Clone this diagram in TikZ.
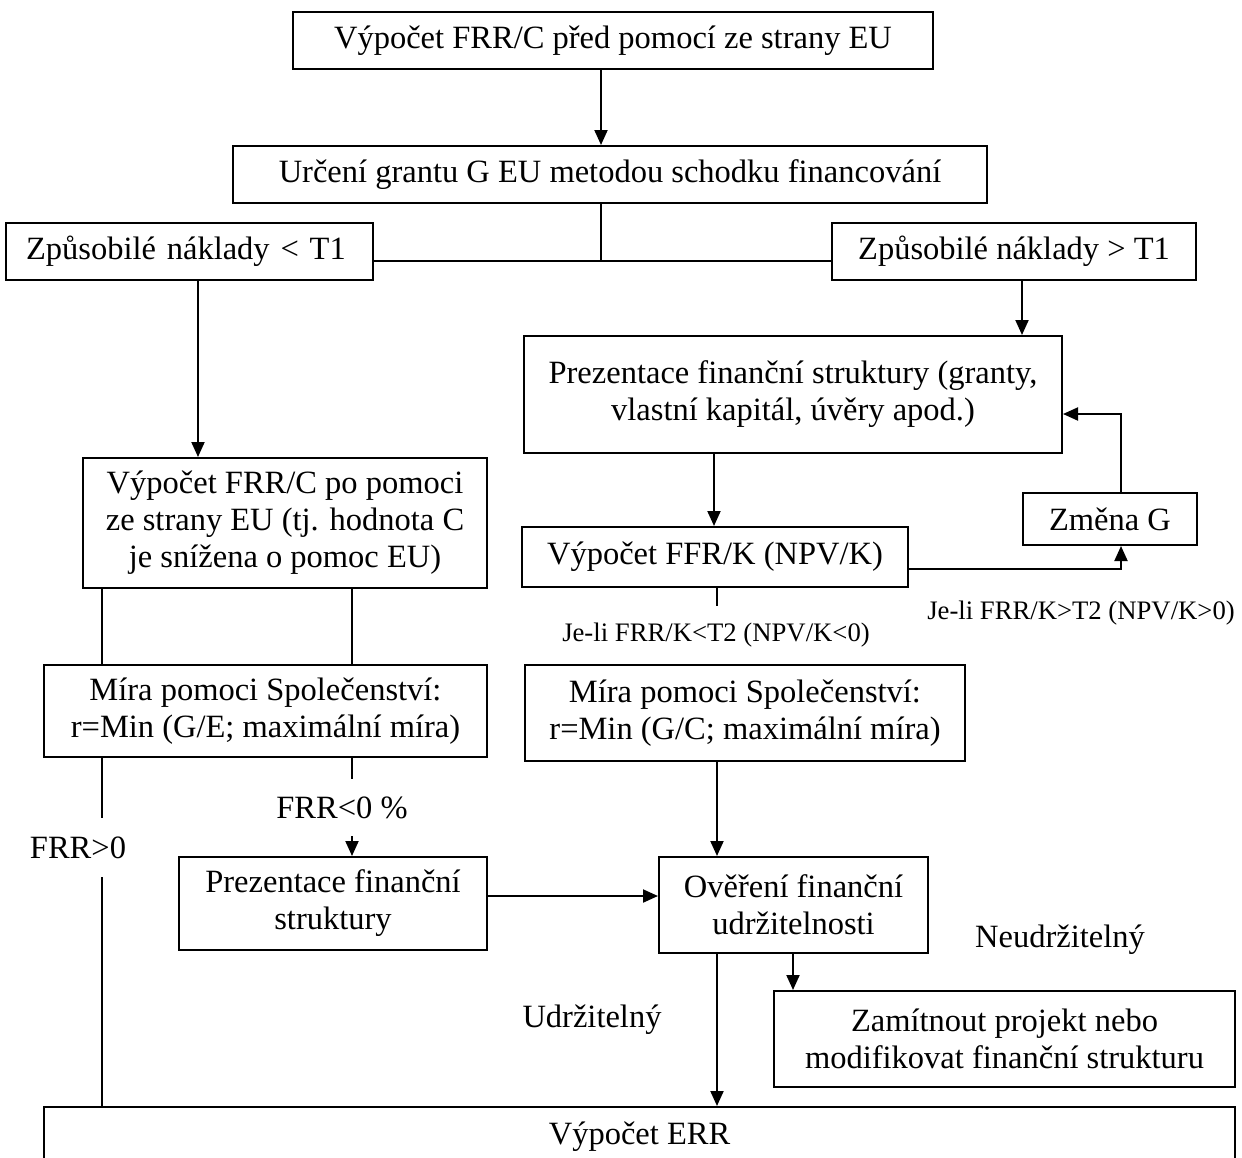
\documentclass[tikz,border=0pt]{standalone}
\usepackage{fontspec}
\setmainfont{Liberation Serif}
\usetikzlibrary{arrows.meta}
\begin{document}
\begin{tikzpicture}[x=1pt,y=-1pt,
  box/.style={draw=black,line width=2pt,inner sep=0pt,align=center,
    font=\fontsize{32.5}{37}\selectfont},
  lab/.style={inner sep=0pt,align=center,font=\fontsize{32.5}{37}\selectfont},
  slab/.style={inner sep=0pt,align=center,font=\fontsize{26.7}{30}\selectfont},
  ln/.style={line width=2pt,black},
  arr/.style={line width=2pt,black,-{Triangle[length=15pt,width=13pt]}}]
\useasboundingbox (0,0) rectangle (1242,1157);
\clip (0,0) rectangle (1242,1157);
% boxes
\node[box,minimum width=640pt,minimum height=57pt] (top) at (613,40.5) {Výpočet FRR/C před pomocí ze strany EU};
\node[box,minimum width=754pt,minimum height=57pt] (b2) at (610,174.5) {Určení grantu G EU metodou schodku financování};
\node[box,minimum height=57pt,text width=327pt,align=left,inner xsep=20pt] (b3) at (189.5,251.5) {Způsobilé náklady < T1};
\node[box,minimum width=364pt,minimum height=57pt] (b4) at (1014,251.5) {Způsobilé náklady > T1};
\node[box,minimum width=404pt,minimum height=130pt] (b5) at (285,523) {Výpočet FRR/C po pomoci\\ze strany EU (tj. hodnota C\\je snížena o pomoc EU)};
\node[box,minimum width=538pt,minimum height=117pt] (b6) at (793,394.5) {Prezentace finanční struktury (granty,\\vlastní kapitál, úvěry apod.)};
\node[box,minimum width=386pt,minimum height=60pt] (b7) at (715,557) {Výpočet FFR/K (NPV/K)};
\node[box,minimum width=174pt,minimum height=52pt] (zg) at (1110,519) {Změna G};
\node[box,minimum width=443pt,minimum height=92pt] (b8) at (265.5,711) {Míra pomoci Společenství:\\r=Min (G/E; maximální míra)};
\node[box,minimum width=440pt,minimum height=96pt] (b11) at (745,713) {Míra pomoci Společenství:\\r=Min (G/C; maximální míra)};
\node[box,minimum width=308pt,minimum height=93pt] (b9) at (333,903.5) {Prezentace finanční\\struktury};
\node[box,minimum width=269pt,minimum height=96pt] (b10) at (793.5,905) {Ověření finanční\\udržitelnosti};
\node[box,minimum width=461pt,minimum height=96pt] (b12) at (1004.5,1039) {Zamítnout projekt nebo\\modifikovat finanční strukturu};
\node[box,minimum width=1191pt,minimum height=60pt] (err) at (639.5,1137) {Výpočet ERR};
% labels
\node[slab] (l1) at (716,635) {Je-li FRR/K<T2 (NPV/K<0)};
\node[slab] (l2) at (1081,613) {Je-li FRR/K>T2 (NPV/K>0)};
\node[lab] (l3) at (78,848) {FRR>0};
\node[lab] (l4) at (342,808) {FRR<0 \%};
\node[lab] (l5) at (1060,940) {Neudržitelný};
\node[lab] (l6) at (592,1020) {Udržitelný};
% column coordinates
\coordinate (xA) at (601,0);
\coordinate (xB) at (198,0);
\coordinate (xC) at (1022,0);
\coordinate (xD) at (714,0);
\coordinate (xE) at (717,0);
\coordinate (xG) at (102,0);
\coordinate (xH) at (352,0);
\coordinate (xI) at (793,0);
\coordinate (j1) at (601,261);
\coordinate (j2) at (1121,569);
\coordinate (j3) at (1121,414);
\coordinate (t1) at (717,606);
\coordinate (g1) at (102,818);
\coordinate (g2) at (102,877);
\coordinate (h1) at (352,779);
\coordinate (h2) at (352,836);
\coordinate (k) at (0,896);
% connectors
\draw[arr] (top.south -| xA) -- (b2.north -| xA);
\draw[ln] (b2.south -| xA) -- (j1);
\draw[ln] (b3.east |- j1) -- (b4.west |- j1);
\draw[arr] (b3.south -| xB) -- (b5.north -| xB);
\draw[arr] (b4.south -| xC) -- (b6.north -| xC);
\draw[arr] (b6.south -| xD) -- (b7.north -| xD);
\draw[arr] (b7.east |- j2) -- (j2) -- (zg.south -| j2);
\draw[arr] (zg.north -| j3) -- (j3) -- (b6.east |- j3);
\draw[ln] (b7.south -| t1) -- (t1);
\draw[ln] (b5.south -| xG) -- (b8.north -| xG);
\draw[ln] (b5.south -| xH) -- (b8.north -| xH);
\draw[ln] (b8.south -| g1) -- (g1);
\draw[ln] (g2) -- (err.north -| g2);
\draw[ln] (b8.south -| h1) -- (h1);
\draw[arr] (h2) -- (b9.north -| h2);
\draw[arr] (b9.east |- k) -- (b10.west |- k);
\draw[arr] (b11.south -| xE) -- (b10.north -| xE);
\draw[arr] (b10.south -| xI) -- (b12.north -| xI);
\draw[arr] (b10.south -| xE) -- (err.north -| xE);
\end{tikzpicture}
\end{document}
